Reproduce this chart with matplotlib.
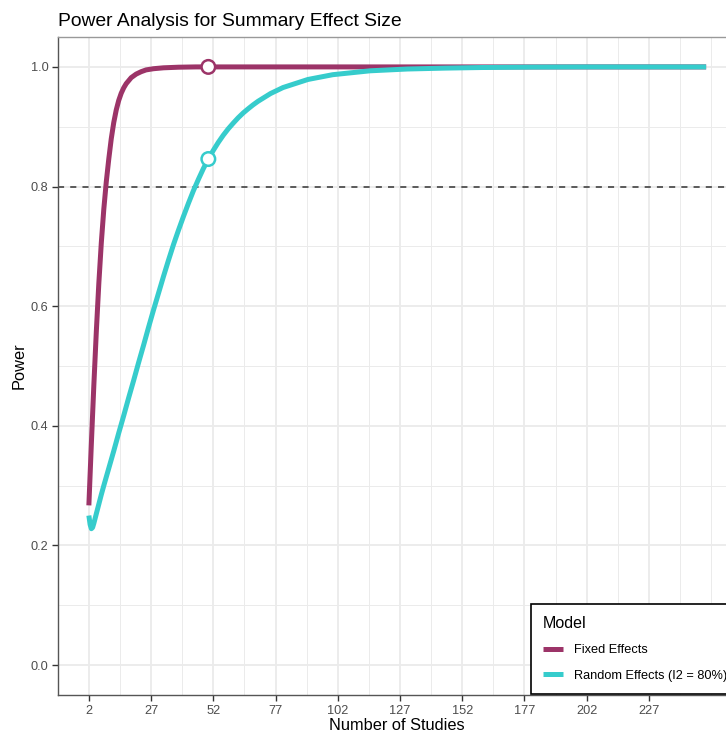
import matplotlib
matplotlib.use("Agg")
import matplotlib.pyplot as plt
from matplotlib.lines import Line2D

plt.rcParams["font.family"] = ["Liberation Sans", "DejaVu Sans"]

# Power curves (number of studies vs. power)
fixed_k = [2, 3, 4, 5, 6, 7, 8, 9, 10, 11, 12, 13, 14, 15, 16, 17, 19, 21, 23, 25, 28, 32, 38, 45, 250]
fixed_power = [0.267, 0.370, 0.468, 0.558, 0.638, 0.706, 0.762, 0.808, 0.846, 0.880, 0.907, 0.928,
               0.944, 0.956, 0.965, 0.972, 0.982, 0.988, 0.992, 0.995, 0.997, 0.9985, 0.9995, 1.0, 1.0]

random_k = [2, 2.5, 3, 3.5, 4, 5, 6, 7, 8, 10, 12, 14, 16, 18, 20, 22, 24, 26, 28, 30, 32, 34, 36,
            38, 40, 42, 44, 46, 48, 50, 52, 54, 56, 58, 60, 62, 64, 66, 68, 70, 75, 80, 90, 100,
            115, 130, 145, 160, 180, 200, 250]
random_power = [0.250, 0.235, 0.228, 0.230, 0.237, 0.253, 0.269, 0.285, 0.300, 0.329, 0.358, 0.388,
                0.417, 0.447, 0.476, 0.506, 0.535, 0.565, 0.594, 0.622, 0.650, 0.677, 0.703, 0.727,
                0.750, 0.772, 0.793, 0.812, 0.830, 0.846, 0.8605, 0.8738, 0.8858, 0.8965, 0.906,
                0.915, 0.923, 0.930, 0.9366, 0.9426, 0.9555, 0.9655, 0.979, 0.987, 0.9935, 0.9965,
                0.998, 0.999, 0.9997, 1.0, 1.0]

# Highlighted points at the planned number of studies
marker_k = [50, 50]
marker_power = [1.0, 0.846]

x_breaks = [2, 27, 52, 77, 102, 127, 152, 177, 202, 227]
y_breaks = [0.0, 0.2, 0.4, 0.6, 0.8, 1.0]
power_threshold = 0.8

fixed_color = "#9c3468"
random_color = "#36cccc"

W, H = 726, 733
fig = plt.figure(figsize=(W / 100, H / 100), dpi=100)
ax = fig.add_axes([58 / W, (H - 695) / H, (737 - 58) / W, (695 - 37) / H])

ax.set_xlim(-10.4, 262.4)
ax.set_ylim(-0.05, 1.05)

# grid: major plus minor at midpoints
x_minor = [b - 12.5 for b in x_breaks] + [239.5, 252]
y_minor = [0.1, 0.3, 0.5, 0.7, 0.9]
for xv in x_minor:
    ax.axvline(xv, color="#ebebeb", lw=0.7, zorder=0)
for yv in y_minor:
    ax.axhline(yv, color="#ebebeb", lw=0.7, zorder=0)
for xv in x_breaks:
    ax.axvline(xv, color="#ebebeb", lw=1.3, zorder=0)
for yv in y_breaks:
    ax.axhline(yv, color="#ebebeb", lw=1.3, zorder=0)

ax.axhline(power_threshold, color="#333333", lw=1.1, ls=(0, (4, 4)), zorder=1)

ax.plot(fixed_k, fixed_power, color=fixed_color, lw=3.6, solid_capstyle="butt",
        solid_joinstyle="round", zorder=3)
ax.plot(random_k, random_power, color=random_color, lw=3.6, solid_capstyle="butt",
        solid_joinstyle="round", zorder=3)
ax.scatter(marker_k, marker_power, s=95, facecolor="white",
           edgecolor=[fixed_color, random_color], linewidth=1.8, zorder=4)

ax.set_xticks(x_breaks)
ax.set_xticklabels([str(b) for b in x_breaks])
ax.set_yticks(y_breaks)
ax.set_yticklabels([f"{b:.1f}" for b in y_breaks])
ax.tick_params(axis="both", length=4, width=1.0, color="#333333", labelcolor="#4d4d4d",
               labelsize=9.2, pad=3)

for side in ["left", "bottom"]:
    ax.spines[side].set_color("#555555")
    ax.spines[side].set_linewidth(1.0)
ax.spines["top"].set_color("#999999")
ax.spines["top"].set_linewidth(1.0)
ax.spines["right"].set_color("#999999")

fig.text(58 / W, 1 - 26 / H, "Power Analysis for Summary Effect Size", fontsize=13.9,
         ha="left", va="baseline", color="black")
fig.text(397 / W, 1 - 730 / H, "Number of Studies", fontsize=11.8, ha="center", va="baseline")
fig.text(19 / W, 1 - 366 / H, "Power", fontsize=11.8, rotation=90, ha="center", va="center")

handles = [Line2D([], [], color=fixed_color, lw=3.6, solid_capstyle="butt"),
           Line2D([], [], color=random_color, lw=3.6, solid_capstyle="butt")]
leg = ax.legend(handles, ["Fixed Effects", "Random Effects (I2 = 80%)"], title="Model",
                loc="lower left", bbox_to_anchor=(531 / W, 39 / H), bbox_transform=fig.transFigure,
                borderaxespad=0, fancybox=False, edgecolor="black", fontsize=9.2,
                title_fontsize=11.5, handlelength=1.55, handletextpad=0.85, labelspacing=1.05,
                borderpad=0.95, alignment="left", framealpha=1)
leg.get_frame().set_linewidth(1.2)

fig.savefig("out.png", dpi=100)
